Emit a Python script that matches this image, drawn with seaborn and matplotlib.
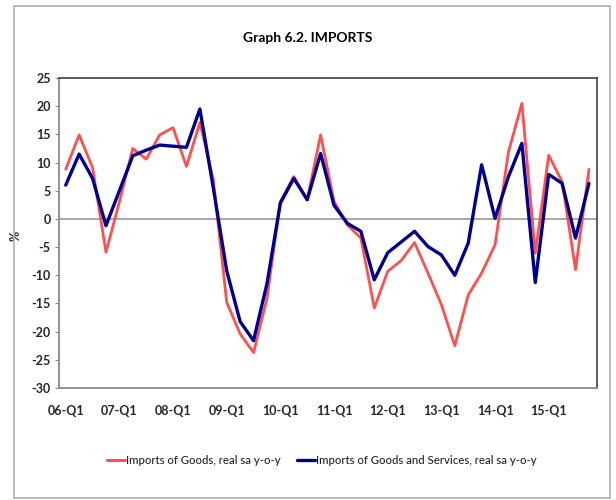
import pandas as pd
import numpy as np
import matplotlib.pyplot as plt
import seaborn as sns
from matplotlib.patches import Rectangle

# quarterly data, 06-Q1 .. 15-Q4
years = ["06", "07", "08", "09", "10", "11", "12", "13", "14", "15"]
quarters = [y + "-Q" + str(q) for y in years for q in range(1, 5)]

goods = [8.8, 14.9, 9.1, -5.9, 3.0, 12.5, 10.6, 14.9, 16.2, 9.3,
         17.1, 7.0, -14.8, -20.4, -23.7, -14.1, 3.1, 7.5, 3.4, 14.9,
         3.1, -1.1, -3.4, -15.8, -9.3, -7.4, -4.2, -9.6, -15.2, -22.5,
         -13.5, -9.6, -4.6, 11.9, 20.5, -6.1, 11.3, 6.6, -9.0, 8.8]
goods_services = [6.0, 11.5, 7.2, -1.2, 5.0, 11.2, 12.2, 13.1, 12.9, 12.7,
                  19.5, 5.5, -9.2, -18.2, -21.6, -11.5, 2.8, 7.2, 3.4, 11.6,
                  2.4, -0.8, -2.2, -10.8, -6.0, -4.1, -2.2, -4.9, -6.4, -10.0,
                  -4.3, 9.6, 0.1, 7.5, 13.4, -11.3, 7.9, 6.3, -3.4, 6.3]

lbl_goods = "Imports of Goods, real sa y-o-y"
lbl_gs = "Imports of Goods and Services, real sa y-o-y"

df = pd.DataFrame({
    "idx": list(range(len(quarters))) * 2,
    "value": goods + goods_services,
    "series": [lbl_goods] * len(goods) + [lbl_gs] * len(goods_services),
})

sns.set_style("white")
plt.rcParams['font.family'] = ['Lato', 'DejaVu Sans']

fig = plt.figure(figsize=(6.16, 5.0), dpi=100)
ax = fig.add_axes([59 / 616, 112 / 500, 538 / 616, 310 / 500])

sns.lineplot(data=df, x="idx", y="value", hue="series",
             palette={lbl_goods: "#FF5050", lbl_gs: "#000090"},
             ax=ax, legend=False)
for line, lw in zip(ax.lines, [2.0, 2.4]):
    line.set_linewidth(lw)

ax.axhline(0, color="#9A9A9A", lw=1.2, zorder=0)

ax.set_xlim(-0.5, 39.6)
ax.set_ylim(-30, 25)
ax.set_yticks(np.arange(-30, 26, 5))
ax.set_xticks(range(0, 40, 4))
ax.set_xticklabels([q for q in quarters[::4]], fontweight="bold", fontsize=9)
ax.set_yticklabels([str(v) for v in range(-30, 26, 5)], fontweight="bold", fontsize=9)
ax.tick_params(axis="y", length=3, width=0.8, color="#8A8A8A", pad=3, direction="out", left=True)
ax.tick_params(axis="x", length=0, pad=12)
ax.set_xlabel("")
ax.set_ylabel("%", fontweight="bold", fontsize=9)
ax.yaxis.set_label_coords(-0.069, 0.49)

for side in ["top", "right"]:
    ax.spines[side].set_color("#505050")
    ax.spines[side].set_linewidth(1.3)
for side in ["left", "bottom"]:
    ax.spines[side].set_color("#8A8A8A")
    ax.spines[side].set_linewidth(1.3)

fig.text(0.5, 1 - 38 / 500, "Graph 6.2. IMPORTS", ha="center", va="center",
         fontsize=10, fontweight="bold", color="black")

handles = [plt.Line2D([], [], color="#FF5050", lw=2.2),
           plt.Line2D([], [], color="#000090", lw=2.4)]
fig.legend(handles, [lbl_goods, lbl_gs], loc="center", bbox_to_anchor=(0.522, 1 - 460 / 500),
           ncol=2, frameon=False, fontsize=8.2, handlelength=1.6, handletextpad=0.1,
           columnspacing=1.4, prop={"weight": "medium", "size": 8.2})

fig.patches.append(Rectangle((13.5 / 616, 2 / 500), (610 - 13.5) / 616, (494 - 2) / 500,
                             transform=fig.transFigure, fill=False,
                             edgecolor="#B0B0B0", lw=1.2))

fig.savefig("out.png", dpi=100)
